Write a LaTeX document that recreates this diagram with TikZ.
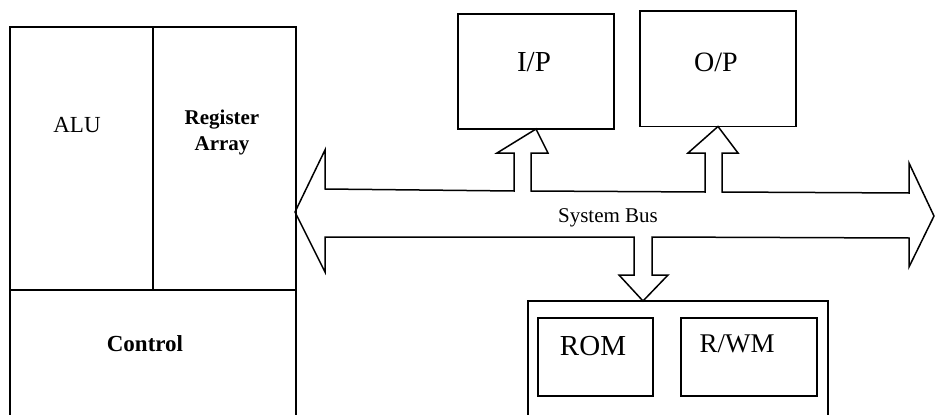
\documentclass[tikz,border=0pt]{standalone}
\usepackage{fontspec}
\setmainfont{Liberation Serif}
\begin{document}
\begin{tikzpicture}[x=1pt,y=-1pt,line join=miter]
\tikzset{
  box/.style={draw,line width=1.5pt,inner sep=0pt,outer sep=0pt,anchor=north west},
  frame/.style={inner sep=0pt,outer sep=0pt,anchor=north west},
  edge/.style={draw,line width=1.5pt},
  lbl/.style={anchor=base,inner sep=0pt,align=center}
}
\useasboundingbox (0,0) rectangle (935,415);
% CPU
\node[box,minimum width=143pt,minimum height=263pt] (alu) at (10,27) {};
\node[box,minimum width=143pt,minimum height=263pt] (reg) at (153,27) {};
\node[frame,minimum width=286pt,minimum height=125pt] (control) at (10,290) {};
\path[edge] (control.south west) -- (control.north west) -- (control.north east) -- (control.south east);
\node[lbl,font=\fontsize{23}{26}\selectfont] (alut) at (77,132) {ALU};
\node[lbl,font=\fontsize{21}{26}\selectfont\bfseries] (regt) at (222,124) {Register};
\node[lbl,font=\fontsize{21}{26}\selectfont\bfseries] (regt2) at (222,150) {Array};
\node[lbl,font=\fontsize{23}{26}\selectfont\bfseries] (ctrlt) at (145,351) {Control};
% I/O
\node[box,minimum width=156pt,minimum height=115pt] (ip) at (458,14) {};
\node[box,minimum width=156pt,minimum height=115.5pt] (op) at (640,11) {};
\node[lbl,font=\fontsize{29}{32}\selectfont] (ipt) at (534,71) {I/P};
\node[lbl,font=\fontsize{28}{32}\selectfont] (opt) at (716,71) {O/P};
% Memory
\node[frame,minimum width=300pt,minimum height=114pt] (mem) at (528,301) {};
\path[edge] (mem.south west) -- (mem.north west) -- (mem.north east) -- (mem.south east);
\node[box,minimum width=115pt,minimum height=78pt] (rom) at (538,318) {};
\node[box,minimum width=136pt,minimum height=78pt] (rwm) at (681,318) {};
\node[lbl,font=\fontsize{29}{32}\selectfont] (romt) at (593,355) {ROM};
\node[lbl,font=\fontsize{27}{32}\selectfont] (rwmt) at (737,352) {R/WM};
% System bus
\coordinate (ltip) at (295,212);
\coordinate (rtip) at (934,216);
\path[edge]
  (325,189) -- (514,191) -- (514,153) -- (497,153) -- (ip.south) -- (548,153) -- (531,153) -- (531,191)
  -- (705,192) -- (705,153) -- (688,153) -- (op.south) -- (738,153) -- (722,153) -- (722,192)
  -- (909,193) -- (909,163) -- (rtip) -- (909,267) -- (909,238)
  -- (652,237) -- (652,275) -- (668,275) -- (mem.north -| 643,0) -- (619,275) -- (634,275) -- (634,237)
  -- (325,237) -- (325,272) -- (ltip) -- (325,150) -- cycle;
\node[lbl,font=\fontsize{21}{24}\selectfont] (bust) at (608,222) {System Bus};
\end{tikzpicture}
\end{document}
